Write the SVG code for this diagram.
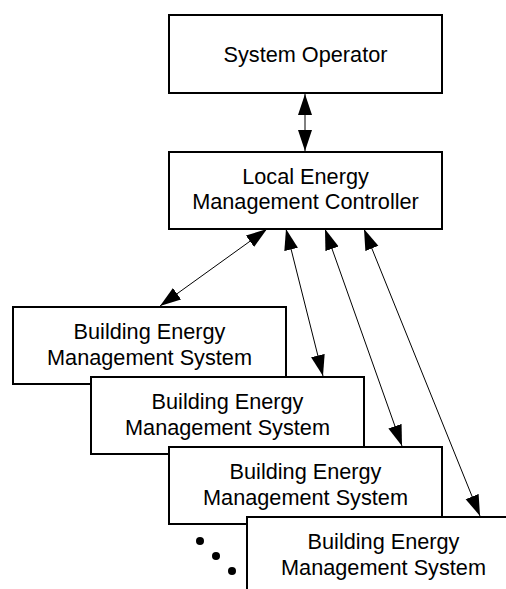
<svg xmlns="http://www.w3.org/2000/svg" width="506" height="589" viewBox="0 0 506 589">
<style>
.box{fill:#fff;stroke:#000;stroke-width:2}
.lbl{font-family:"Liberation Sans",Arial,sans-serif;font-size:21.7px;fill:#000;text-anchor:middle}
.conn{stroke:#000;stroke-width:1;fill:none;marker-start:url(#ah);marker-end:url(#ah)}
</style>
<defs>
<marker id="ah" markerUnits="userSpaceOnUse" markerWidth="22" markerHeight="16" refX="21" refY="7" orient="auto-start-reverse" viewBox="0 0 22 14">
<path d="M0,0 L21,7 L0,14 z" fill="#000"/>
</marker>
</defs>
<g id="system-operator">
<rect class="box" x="169" y="15" width="273" height="78"/>
<text class="lbl" x="305.5" y="62">System Operator</text>
</g>
<g id="lemc">
<rect class="box" x="169" y="152" width="273" height="77"/>
<text class="lbl" x="305.5" y="184">Local Energy</text>
<text class="lbl" x="305.5" y="209">Management Controller</text>
</g>
<g id="bems1">
<rect class="box" x="13" y="307" width="273" height="77"/>
<text class="lbl" x="149.5" y="339">Building Energy</text>
<text class="lbl" x="149.5" y="365">Management System</text>
</g>
<g id="bems2">
<rect class="box" x="91" y="377" width="273" height="77"/>
<text class="lbl" x="227.5" y="409">Building Energy</text>
<text class="lbl" x="227.5" y="435">Management System</text>
</g>
<g id="bems3">
<rect class="box" x="169" y="447" width="273" height="77"/>
<text class="lbl" x="305.5" y="479">Building Energy</text>
<text class="lbl" x="305.5" y="505">Management System</text>
</g>
<g id="bems4">
<rect class="box" x="247" y="517" width="273" height="77"/>
<text class="lbl" x="383.5" y="549">Building Energy</text>
<text class="lbl" x="383.5" y="575">Management System</text>
</g>
<g id="ellipsis">
<circle cx="200" cy="541" r="4" fill="#000"/>
<circle cx="216" cy="556" r="4" fill="#000"/>
<circle cx="232" cy="571" r="4" fill="#000"/>
</g>
<g id="connectors">
<line class="conn" x1="305" y1="94" x2="305" y2="151"/>
<line class="conn" x1="267" y1="229" x2="160" y2="306"/>
<line class="conn" x1="286" y1="229" x2="323" y2="376"/>
<line class="conn" x1="325" y1="229" x2="402" y2="446"/>
<line class="conn" x1="364" y1="229" x2="480" y2="516"/>
</g>
</svg>
